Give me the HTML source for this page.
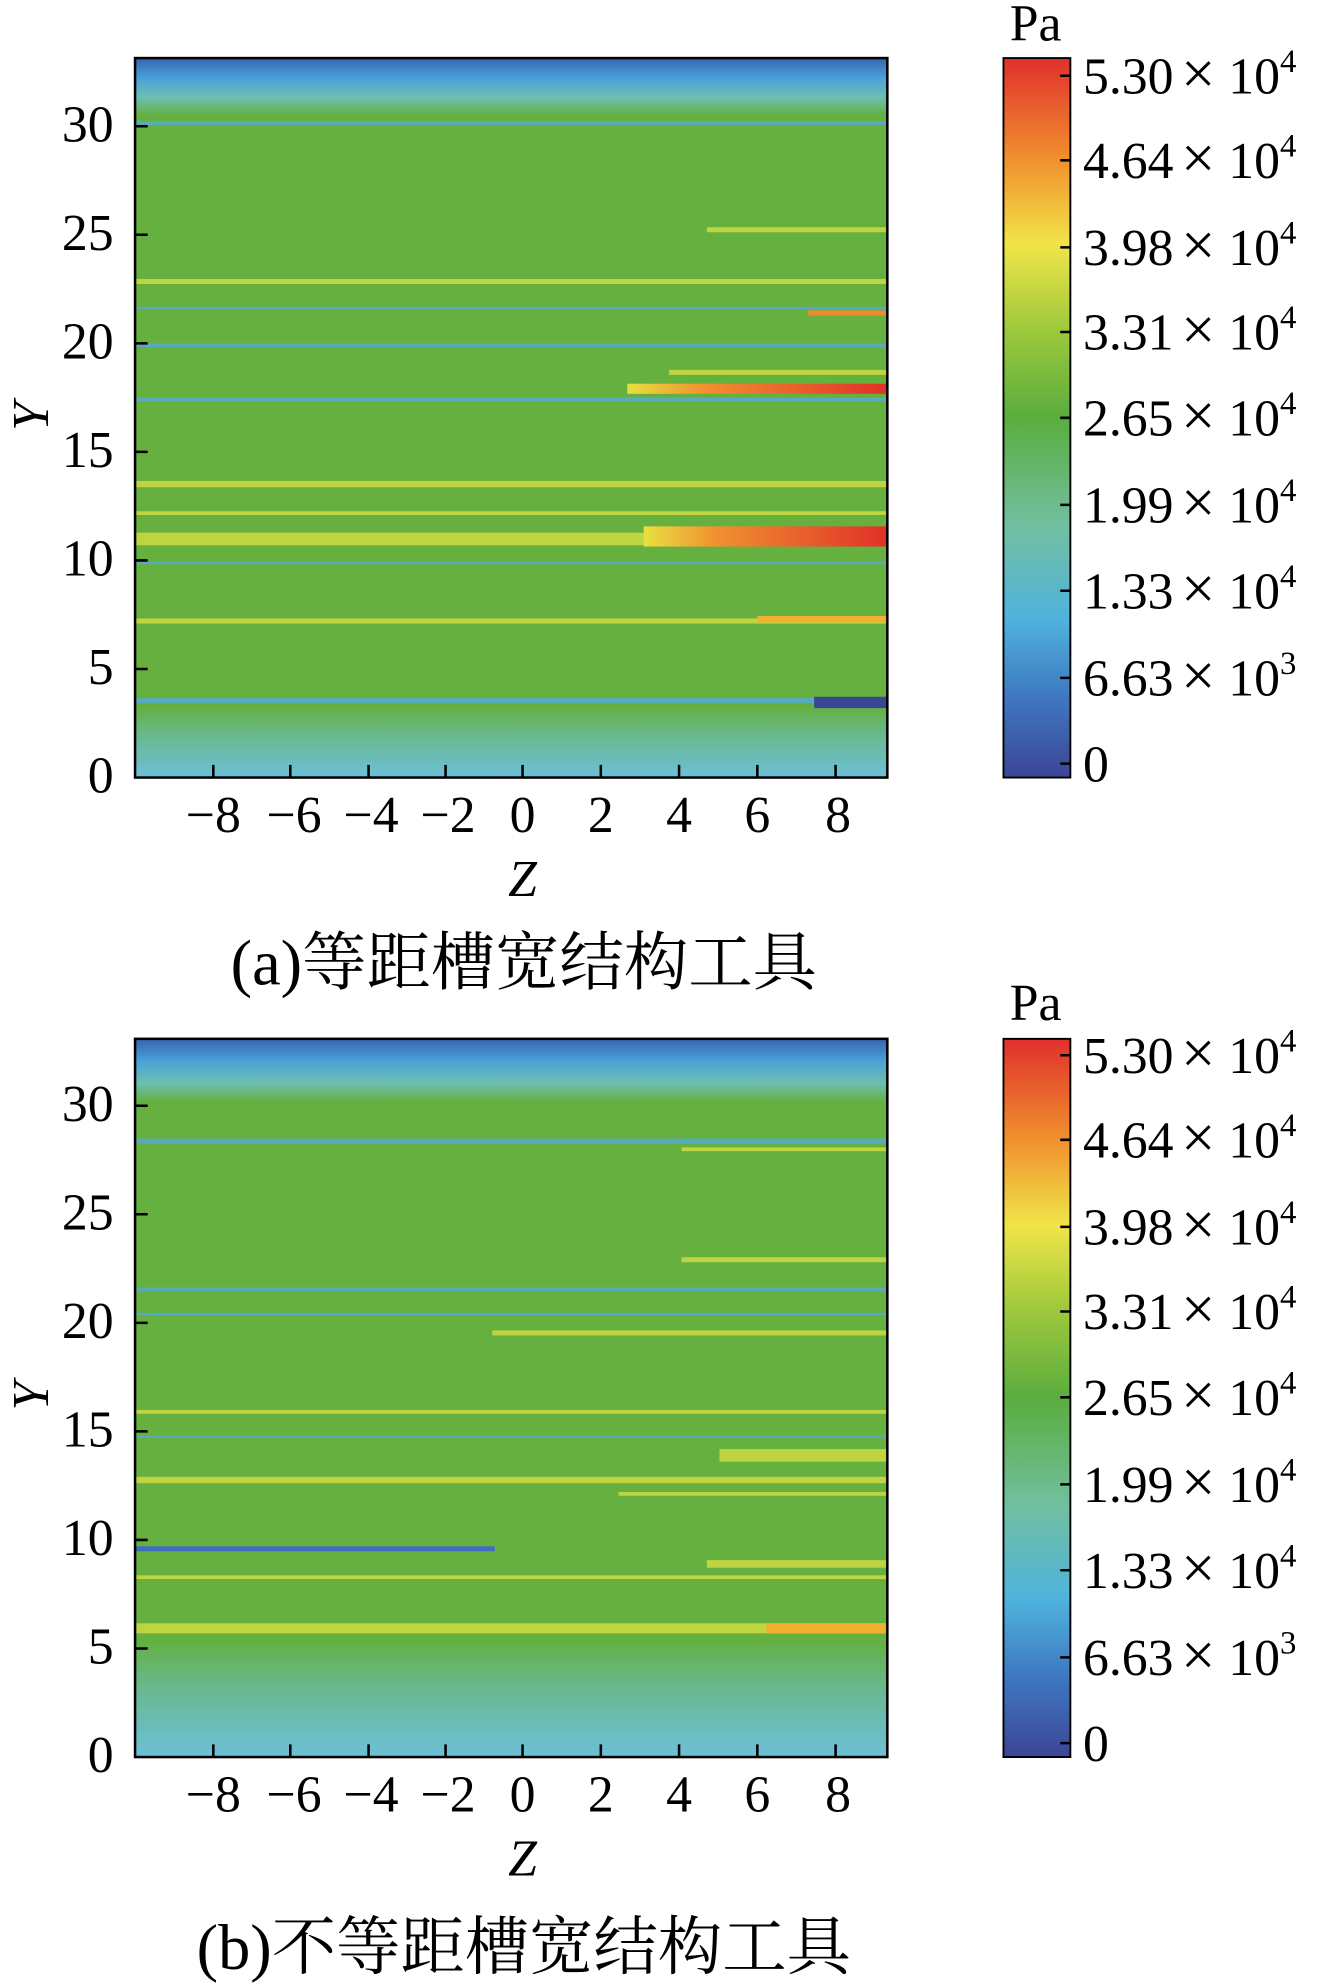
<!DOCTYPE html>
<html><head><meta charset="utf-8"><style>body{margin:0;background:#fff}svg{display:block}</style></head><body>
<svg width="1343" height="1983" viewBox="0 0 1064 1571" preserveAspectRatio="none" xmlns="http://www.w3.org/2000/svg" font-family="Liberation Serif, Noto Serif CJK SC, serif">
<defs>
<linearGradient id="cb" x1="0" y1="1" x2="0" y2="0">
<stop offset="0" stop-color="#3b4596"/><stop offset="0.12" stop-color="#3f7cc4"/><stop offset="0.22" stop-color="#4fb3dd"/><stop offset="0.35" stop-color="#72bfa0"/><stop offset="0.5" stop-color="#5aad3e"/><stop offset="0.62" stop-color="#9cc83c"/><stop offset="0.74" stop-color="#f0e548"/><stop offset="0.86" stop-color="#f0902e"/><stop offset="1" stop-color="#e0302c"/>
</linearGradient>
<linearGradient id="top" x1="0" y1="0" x2="0" y2="1">
<stop offset="0" stop-color="#3565b0"/><stop offset="0.35" stop-color="#4aa0d8"/><stop offset="0.7" stop-color="#6dbfb0"/><stop offset="1" stop-color="#64b044"/>
</linearGradient>
<linearGradient id="bot" x1="0" y1="0" x2="0" y2="1">
<stop offset="0" stop-color="#64b044"/><stop offset="0.4" stop-color="#6ab88e"/><stop offset="1" stop-color="#6cc0d8"/>
</linearGradient>
<linearGradient id="hot" x1="0" x2="1"><stop offset="0" stop-color="#e8e040"/><stop offset="0.3" stop-color="#f09030"/><stop offset="1" stop-color="#e03028"/></linearGradient>
</defs>

<!-- Plot a -->
<g>
<rect x="107" y="46" width="596" height="570" fill="#66b040"/>
<rect x="107" y="46" width="596" height="45" fill="url(#top)"/>
<rect x="107" y="560" width="596" height="56" fill="url(#bot)"/>
<g fill="#c8d840" opacity="0.9">
<rect x="107" y="221" width="596" height="4"/><rect x="107" y="381" width="596" height="5"/><rect x="107" y="422" width="596" height="10"/><rect x="107" y="490" width="596" height="4"/><rect x="107" y="405" width="596" height="3"/>
<rect x="560" y="180" width="143" height="4"/><rect x="530" y="293" width="173" height="4"/>
</g>
<g fill="#58aac8" opacity="0.9">
<rect x="107" y="272" width="596" height="3"/><rect x="107" y="315" width="596" height="3"/><rect x="107" y="243" width="596" height="2"/><rect x="107" y="553" width="596" height="4"/><rect x="107" y="96" width="596" height="3"/><rect x="107" y="445" width="596" height="2"/>
</g>
<rect x="497" y="304" width="206" height="8" fill="url(#hot)"/>
<rect x="510" y="417" width="193" height="16" fill="url(#hot)"/>
<rect x="600" y="488" width="103" height="5" fill="#f0b030"/>
<rect x="640" y="246" width="63" height="4" fill="#f08a30"/>
<rect x="645" y="552" width="58" height="9" fill="#3b4596"/>
<rect x="107" y="46" width="596" height="570" fill="none" stroke="#000" stroke-width="2"/>
</g>

<!-- Plot b -->
<g>
<rect x="107" y="823" width="596" height="569" fill="#66b040"/>
<rect x="107" y="823" width="596" height="50" fill="url(#top)"/>
<rect x="107" y="1300" width="596" height="92" fill="url(#bot)"/>
<g fill="#c8d840" opacity="0.9">
<rect x="107" y="1170" width="596" height="5"/><rect x="107" y="1286" width="596" height="8"/><rect x="107" y="1117" width="596" height="3"/><rect x="107" y="1248" width="596" height="3"/>
<rect x="390" y="1054" width="313" height="4"/><rect x="540" y="996" width="163" height="4"/><rect x="570" y="1148" width="133" height="10"/><rect x="560" y="1236" width="143" height="6"/><rect x="490" y="1182" width="213" height="3"/><rect x="540" y="909" width="163" height="3"/>
</g>
<g fill="#58aac8" opacity="0.9">
<rect x="107" y="902" width="596" height="4"/><rect x="107" y="1020" width="596" height="3"/><rect x="107" y="1040" width="596" height="2"/><rect x="107" y="1137" width="596" height="2"/>
</g>
<rect x="107" y="1225" width="285" height="4" fill="#3f6ec0"/>
<rect x="607" y="1286" width="96" height="8" fill="#f0b030"/>
<rect x="107" y="823" width="596" height="569" fill="none" stroke="#000" stroke-width="2"/>
</g>

<!-- axes ticks/labels -->
<g font-size="41" fill="#000" stroke="#000" stroke-width="2">
<g text-anchor="end" stroke="none">
<text x="90" y="628">0</text><text x="90" y="542">5</text><text x="90" y="456">10</text><text x="90" y="370">15</text><text x="90" y="284">20</text><text x="90" y="198">25</text><text x="90" y="112">30</text>
<text x="90" y="1404">0</text><text x="90" y="1318">5</text><text x="90" y="1232">10</text><text x="90" y="1146">15</text><text x="90" y="1060">20</text><text x="90" y="974">25</text><text x="90" y="888">30</text>
</g>
<path d="M107 530h10M107 444h10M107 358h10M107 272h10M107 186h10M107 100h10M169 616v-10M230 616v-10M292 616v-10M353 616v-10M414 616v-10M476 616v-10M538 616v-10M600 616v-10M662 616v-10"/>
<path d="M107 1306h10M107 1220h10M107 1134h10M107 1048h10M107 962h10M107 876h10M169 1392v-10M230 1392v-10M292 1392v-10M353 1392v-10M414 1392v-10M476 1392v-10M538 1392v-10M600 1392v-10M662 1392v-10"/>
<g text-anchor="middle" stroke="none">
<text x="169" y="659">−8</text><text x="233" y="659">−6</text><text x="294" y="659">−4</text><text x="355" y="659">−2</text><text x="414" y="659">0</text><text x="476" y="659">2</text><text x="538" y="659">4</text><text x="600" y="659">6</text><text x="664" y="659">8</text>
<text x="169" y="1435">−8</text><text x="233" y="1435">−6</text><text x="294" y="1435">−4</text><text x="355" y="1435">−2</text><text x="414" y="1435">0</text><text x="476" y="1435">2</text><text x="538" y="1435">4</text><text x="600" y="1435">6</text><text x="664" y="1435">8</text>
<text x="414" y="710" font-style="italic">Z</text><text x="414" y="1486" font-style="italic">Z</text>
<text x="0" y="0" font-style="italic" transform="translate(38,330) rotate(-90)">Y</text>
<text x="0" y="0" font-style="italic" transform="translate(38,1106) rotate(-90)">Y</text>
<text x="415" y="780" font-size="51">(a)等距槽宽结构工具</text>
<text x="415" y="1560" font-size="51">(b)不等距槽宽结构工具</text>
</g>
</g>

<!-- colorbars -->
<g font-size="41" fill="#000">
<rect x="795" y="46" width="53" height="570" fill="url(#cb)" stroke="#000" stroke-width="1.5"/>
<rect x="795" y="823" width="53" height="569" fill="url(#cb)" stroke="#000" stroke-width="1.5"/>
<text x="800" y="32">Pa</text><text x="800" y="808">Pa</text>
<g stroke="#000" stroke-width="2"><path d="M848 60h-8M848 127h-8M848 196h-8M848 263h-8M848 331h-8M848 400h-8M848 468h-8M848 537h-8M848 605h-8"/>
<path d="M848 836h-8M848 903h-8M848 972h-8M848 1039h-8M848 1107h-8M848 1176h-8M848 1244h-8M848 1313h-8M848 1381h-8"/></g>
<g>
<text x="858" y="74">5.30<tspan font-size="48" dx="6">×</tspan> 10<tspan font-size="26" dy="-17">4</tspan></text>
<text x="858" y="141">4.64<tspan font-size="48" dx="6">×</tspan> 10<tspan font-size="26" dy="-17">4</tspan></text>
<text x="858" y="210">3.98<tspan font-size="48" dx="6">×</tspan> 10<tspan font-size="26" dy="-17">4</tspan></text>
<text x="858" y="277">3.31<tspan font-size="48" dx="6">×</tspan> 10<tspan font-size="26" dy="-17">4</tspan></text>
<text x="858" y="345">2.65<tspan font-size="48" dx="6">×</tspan> 10<tspan font-size="26" dy="-17">4</tspan></text>
<text x="858" y="414">1.99<tspan font-size="48" dx="6">×</tspan> 10<tspan font-size="26" dy="-17">4</tspan></text>
<text x="858" y="482">1.33<tspan font-size="48" dx="6">×</tspan> 10<tspan font-size="26" dy="-17">4</tspan></text>
<text x="858" y="551">6.63<tspan font-size="48" dx="6">×</tspan> 10<tspan font-size="26" dy="-17">3</tspan></text>
<text x="858" y="619">0</text>
<text x="858" y="850">5.30<tspan font-size="48" dx="6">×</tspan> 10<tspan font-size="26" dy="-17">4</tspan></text>
<text x="858" y="917">4.64<tspan font-size="48" dx="6">×</tspan> 10<tspan font-size="26" dy="-17">4</tspan></text>
<text x="858" y="986">3.98<tspan font-size="48" dx="6">×</tspan> 10<tspan font-size="26" dy="-17">4</tspan></text>
<text x="858" y="1053">3.31<tspan font-size="48" dx="6">×</tspan> 10<tspan font-size="26" dy="-17">4</tspan></text>
<text x="858" y="1121">2.65<tspan font-size="48" dx="6">×</tspan> 10<tspan font-size="26" dy="-17">4</tspan></text>
<text x="858" y="1190">1.99<tspan font-size="48" dx="6">×</tspan> 10<tspan font-size="26" dy="-17">4</tspan></text>
<text x="858" y="1258">1.33<tspan font-size="48" dx="6">×</tspan> 10<tspan font-size="26" dy="-17">4</tspan></text>
<text x="858" y="1327">6.63<tspan font-size="48" dx="6">×</tspan> 10<tspan font-size="26" dy="-17">3</tspan></text>
<text x="858" y="1395">0</text>
</g>
</g>
</svg>
</body></html>
